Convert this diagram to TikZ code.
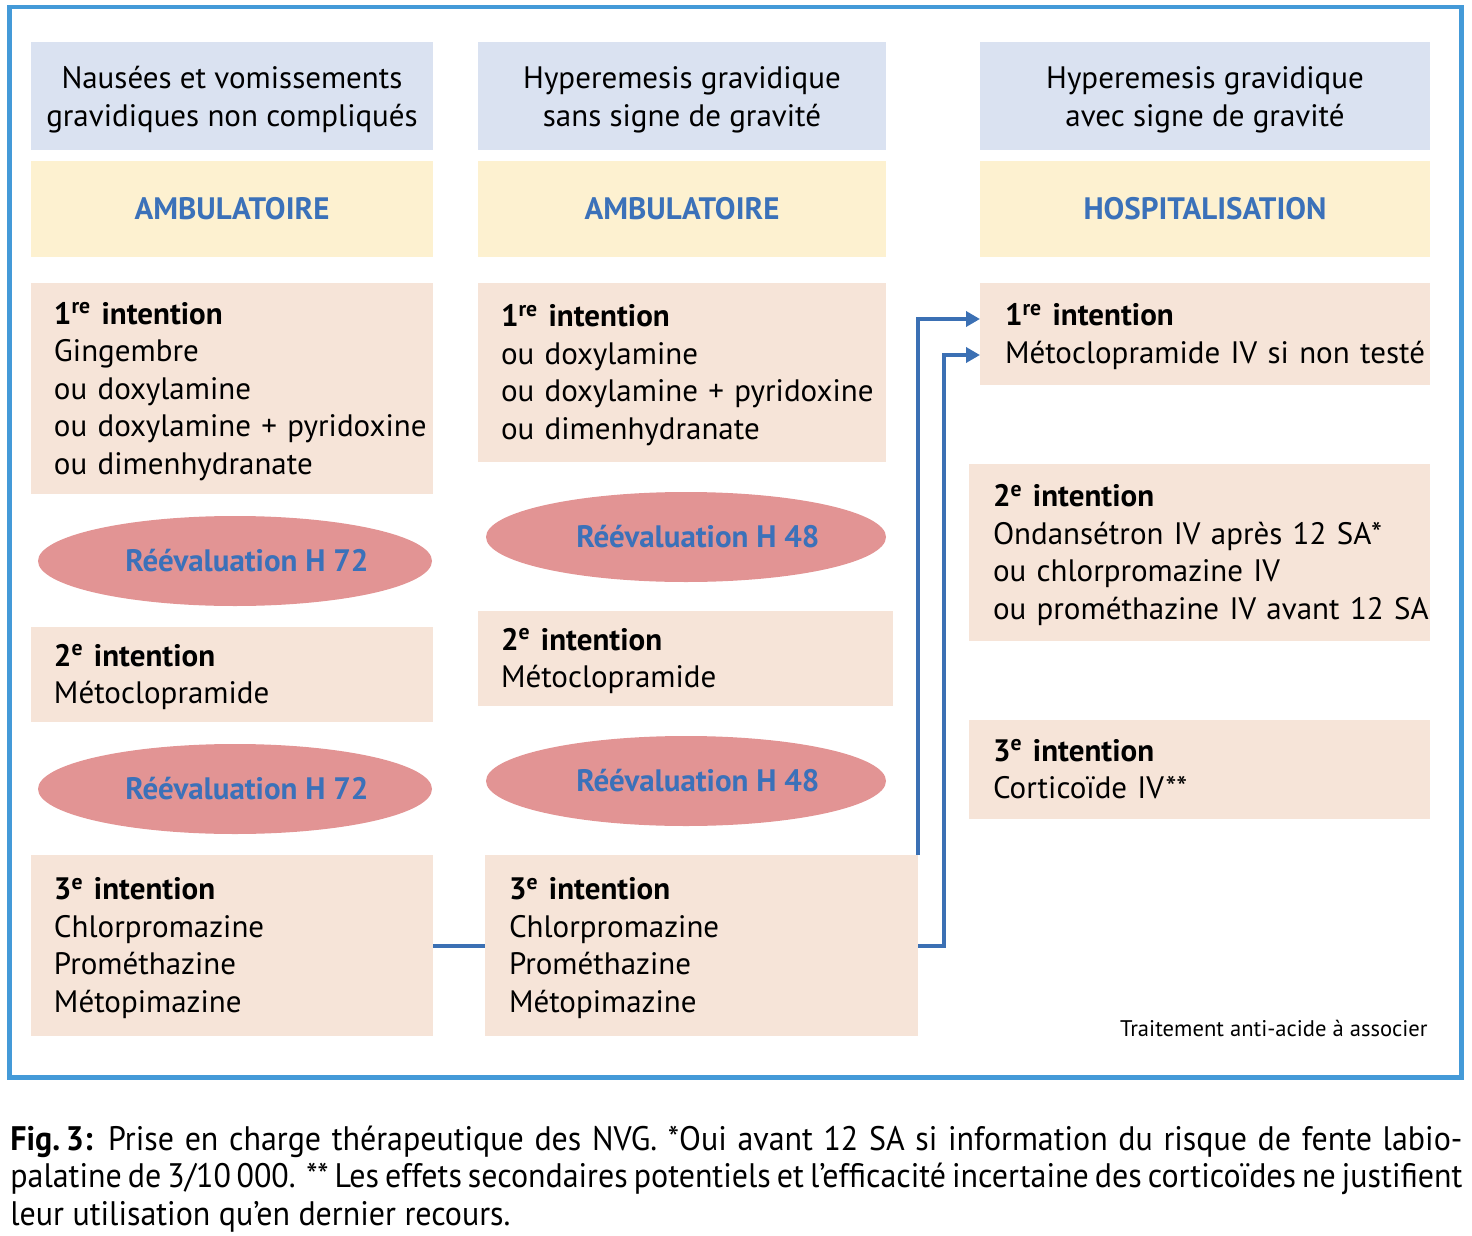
\documentclass[tikz,border=0pt]{standalone}
\usepackage{fontspec}
\setmainfont{PT Sans}
\newfontfamily\capfont[FakeStretch=0.94]{PT Sans}
\usetikzlibrary{shapes.geometric,arrows.meta,calc}
\definecolor{frameblue}{RGB}{68,154,216}
\definecolor{connblue}{RGB}{59,112,180}
\definecolor{hblue}{RGB}{218,226,241}
\definecolor{hyellow}{RGB}{253,241,208}
\definecolor{peach}{RGB}{246,228,216}
\definecolor{rose}{RGB}{226,148,148}
\definecolor{tblue}{RGB}{59,113,185}
\newcommand\boxlines[1]{\makebox[\linewidth][l]{\raisebox{-1.5pt}[\height][\depth]{\begin{tabular}{@{}l@{}}#1\end{tabular}}}}
\newcommand\hdrlines[1]{\raisebox{-2pt}[\height][\depth]{\begin{tabular}{@{}c@{}}#1\end{tabular}}}
\begin{document}
\begin{tikzpicture}[x=0.5pt,y=-0.5pt,
  bodyfont/.style={font=\fontsize{15.5}{18.75}\selectfont},
  base/.style={anchor=north west, inner ysep=0pt, outer sep=0pt, bodyfont},
  hdr/.style={base, fill=hblue, minimum height=54pt},
  mode/.style={base, fill=hyellow, align=center, minimum height=48pt, text=tblue, font=\fontsize{15.5}{18.75}\selectfont\bfseries},
  pbox/.style={base, fill=peach, inner xsep=11.5pt},
  reeval/.style={ellipse, fill=rose, inner sep=0pt, outer sep=0pt, text=tblue, font=\fontsize{15.5}{18.75}\selectfont\bfseries, minimum height=45pt},
  conn/.style={draw=connblue, line width=2pt},
  arr/.style={conn, -{Triangle[length=7pt,width=7.5pt]}}
]
\useasboundingbox (0,0) rectangle (1472,1236);
\draw[frameblue, line width=2.25pt] (9.5,7.2) rectangle (1461.5,1077.5);

% headers
\node[hdr, minimum width=201pt] (h1) at (31,42) {\hdrlines{Nausées et vomissements\\gravidiques non compliqués}};
\node[hdr, minimum width=204pt] (h2) at (478,42) {\hdrlines{Hyperemesis gravidique\\sans signe de gravité}};
\node[hdr, minimum width=225pt] (h3) at (980,42) {\hdrlines{Hyperemesis gravidique\\avec signe de gravité}};

\node[mode, minimum width=201pt] (m1) at (31,161) {AMBULATOIRE};
\node[mode, minimum width=204pt] (m2) at (478,161) {AMBULATOIRE};
\node[mode, minimum width=225pt] (m3) at (980,161) {HOSPITALISATION};

% column 1
\node[pbox, text width=178pt, minimum height=105.5pt] (a1) at (31,283)
  {\boxlines{\textbf{1\textsuperscript{re} intention}\\Gingembre\\ou doxylamine\\ou doxylamine + pyridoxine\\ou dimenhydranate}};
\node[reeval, minimum width=197pt] (r1) at (235,561) {\hspace*{12pt}Réévaluation H 72};
\node[pbox, text width=178pt, minimum height=47.5pt] (a2) at (31,627)
  {\boxlines{\textbf{2\textsuperscript{e} intention}\\Métoclopramide}};
\node[reeval, minimum width=197pt] (r2) at (235,789) {\hspace*{12pt}Réévaluation H 72};
\node[pbox, text width=178pt, minimum height=90.5pt] (a3) at (31,855)
  {\boxlines{\textbf{3\textsuperscript{e} intention}\\Chlorpromazine\\Prométhazine\\Métopimazine}};

% column 2
\node[pbox, text width=181pt, minimum height=89.5pt] (b1) at (478,283)
  {\boxlines{\textbf{1\textsuperscript{re} intention}\\ou doxylamine\\ou doxylamine + pyridoxine\\ou dimenhydranate}};
\node[reeval, minimum width=200pt] (r3) at (686,537) {\hspace*{12pt}Réévaluation H 48};
\node[pbox, text width=184.5pt, minimum height=47.5pt] (b2) at (478,611)
  {\boxlines{\textbf{2\textsuperscript{e} intention}\\Métoclopramide}};
\node[reeval, minimum width=200pt] (r4) at (686,781) {\hspace*{12pt}Réévaluation H 48};
\node[pbox, text width=192.5pt, inner xsep=12pt, minimum height=90.5pt] (b3) at (485,855)
  {\boxlines{\textbf{3\textsuperscript{e} intention}\\Chlorpromazine\\Prométhazine\\Métopimazine}};

% column 3
\node[pbox, text width=200pt, inner xsep=12.5pt, minimum height=51pt] (c1) at (980,283)
  {\boxlines{\textbf{1\textsuperscript{re} intention}\\Métoclopramide IV si non testé}};
\node[pbox, text width=206.5pt, inner xsep=12pt, minimum height=88.5pt] (c2) at (969,464)
  {\boxlines{\textbf{2\textsuperscript{e} intention}\\Ondansétron IV après 12 SA*\\ou chlorpromazine IV\\ou prométhazine IV avant 12 SA}};
\node[pbox, text width=206.5pt, inner xsep=12pt, minimum height=49.5pt] (c3) at (969,720)
  {\boxlines{\textbf{3\textsuperscript{e} intention}\\Corticoïde IV**}};

\node[anchor=base east, inner sep=0pt, font=\fontsize{11.3}{13}\selectfont] (note) at (1428,1036) {Traitement anti-acide à associer};

% connectors
\draw[conn] (a3.east) -- (b3.west);
\draw[arr] (b3.north east) |- ([yshift=7.5pt]c1.west);
\draw[arr] (b3.east) -- ++(13pt,0) |- ([yshift=-10.5pt]c1.west);

% caption
\node[anchor=base west, inner sep=0pt, text width=726pt, align=justify,
      font=\capfont\fontsize{17}{18.75}\selectfont] (cap) at (10,1150)
  {\textbf{Fig.\,3:} Prise en charge thérapeutique des NVG. *Oui avant 12 SA si information du risque de fente labio-\linebreak palatine de 3/10\,000. ** Les effets secondaires potentiels et l’efficacité incertaine des corticoïdes ne justifient\linebreak leur utilisation qu’en dernier recours.};
\end{tikzpicture}
\end{document}
